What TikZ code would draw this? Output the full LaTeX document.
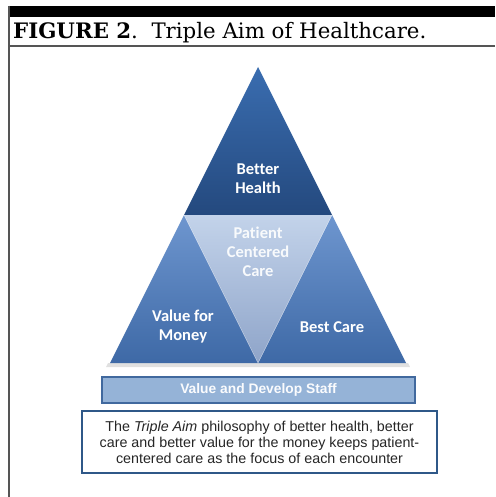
\documentclass[tikz,border=0pt]{standalone}
\usepackage{fontspec}
\setmainfont{Liberation Sans}
\newfontfamily\titlefont{DejaVu Serif}
\newfontfamily\labelfont[Ligatures=NoCommon]{Carlito}
\definecolor{topA}{HTML}{3A6DB0}
\definecolor{topB}{HTML}{24497E}
\definecolor{sideA}{HTML}{6E96CF}
\definecolor{sideB}{HTML}{3E69A6}
\definecolor{innA}{HTML}{C3D3EA}
\definecolor{innB}{HTML}{8EA4C9}
\definecolor{barfill}{HTML}{95B3D7}
\definecolor{barline}{HTML}{41699E}
\definecolor{boxline}{HTML}{2F5888}
\definecolor{txt}{HTML}{262626}
\definecolor{frame}{HTML}{555555}
\tikzset{
  triLabel/.style={font=\labelfont\bfseries\fontsize{16.5}{19}\selectfont, text=white, align=center, inner sep=0pt},
  innLabel/.style={triLabel, text=white!88!innA},
  barbox/.style={draw=barline, fill=barfill, line width=1.5pt},
  descbox/.style={draw=boxline, fill=white, line width=1.5pt},
}
\begin{document}
\begin{tikzpicture}[x=1pt,y=-1pt]
\useasboundingbox (0,0) rectangle (495,497);
\fill[white] (0,0) rectangle (495,497);
% frame
\fill[black] (9,6) rectangle (495,17);
\draw[frame, line width=1.2pt] (9,6) -- (9,497);
\draw[frame, line width=1.1pt] (9,46) -- (495,46);
\node[anchor=base west, inner sep=0pt, font=\titlefont\fontsize{21.3}{24}\selectfont, text=black] (title) at (13,38.5) {\textbf{FIGURE 2}.\ \ Triple Aim of Healthcare.};
% geometry
\coordinate (A) at (258,67);
\coordinate (BL) at (110,363);
\coordinate (BR) at (406,363);
\coordinate (ML) at (184,215);
\coordinate (MR) at (332,215);
\coordinate (MB) at (258,363);
% shadow
\fill[black, opacity=0.12] (108,363) -- (408,363) -- (410,367) -- (106,367) -- cycle;
% triangles
\shade[top color=topA, bottom color=topB] (A) -- (MR) -- (ML) -- cycle;
\shade[top color=sideA, bottom color=sideB] (ML) -- (MB) -- (BL) -- cycle;
\shade[top color=sideA, bottom color=sideB] (MR) -- (BR) -- (MB) -- cycle;
\shade[top color=innA, bottom color=innB] (ML) -- (MR) -- (MB) -- cycle;
\draw[white, opacity=0.35, line width=0.6pt] (ML) -- (MB) -- (MR);
% labels
\node[triLabel] (health) at (258,179) {Better\\Health};
\node[innLabel] (patient) at (258,252) {Patient\\Centered\\Care};
\node[triLabel] (money) at (183,327) {Value for\\Money};
\node[triLabel] (care) at (332,327) {Best Care};
% bar
\node[barbox, minimum width=313pt, minimum height=26pt, inner sep=0pt,
  font=\bfseries\fontsize{13.8}{16}\selectfont, text=white!95!barfill] (staff) at (258.5,390) {Value and Develop Staff};
% description
\node[descbox, minimum width=355pt, minimum height=62pt, inner sep=0pt, align=center,
  font=\fontsize{14.3}{16}\selectfont, text=txt] (desc) at (259.5,442) {The \textit{Triple Aim} philosophy of better health, better\\care and better value for the money keeps patient-\\centered care as the focus of each encounter};
\end{tikzpicture}
\end{document}
